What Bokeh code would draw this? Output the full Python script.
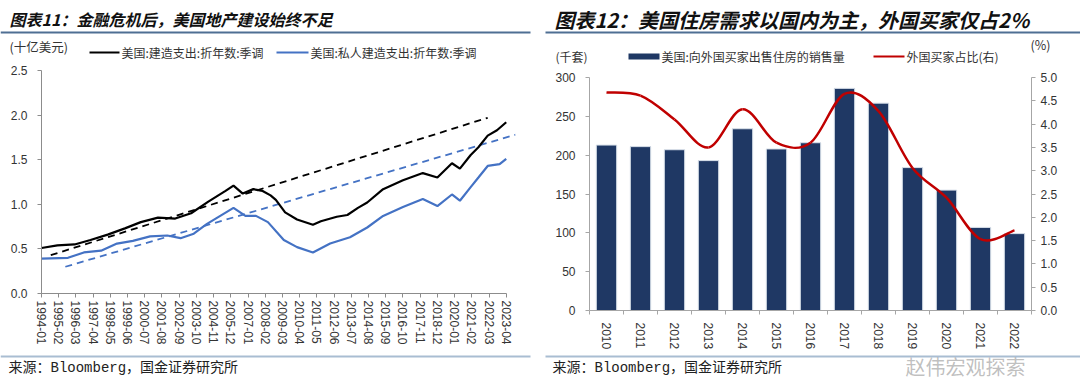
import numpy as np
from bokeh.plotting import figure
from bokeh.models import (FixedTicker, LinearAxis, Range1d, Label, BoxAnnotation)
from bokeh.layouts import row, column
from bokeh.embed import file_html
from bokeh.resources import INLINE

# ---------------- data: left chart ----------------
x_tick_labels = ["1994-01", "1995-02", "1996-03", "1997-04", "1998-05", "1999-06", "2000-07",
                 "2001-08", "2002-09", "2003-10", "2004-11", "2005-12", "2007-01", "2008-02",
                 "2009-03", "2010-04", "2011-05", "2012-06", "2013-07", "2014-08", "2015-09",
                 "2016-10", "2017-11", "2018-12", "2020-01", "2021-02", "2022-03", "2023-04"]

total_dates = ["1994-01", "1995-01", "1996-02", "1997-02", "1998-03", "1999-04", "2000-04",
               "2001-05", "2002-06", "2003-06", "2004-07", "2005-08", "2006-02", "2006-09",
               "2007-05", "2007-12", "2008-06", "2008-10", "2009-05", "2010-02", "2011-02",
               "2011-08", "2012-08", "2013-04", "2013-12", "2014-07", "2015-07", "2016-10",
               "2018-01", "2018-12", "2019-11", "2020-05", "2021-01", "2021-07", "2022-02",
               "2022-09", "2023-04"]
total_values = [0.51, 0.54, 0.55, 0.60, 0.66, 0.73, 0.80, 0.85, 0.84, 0.90, 1.03, 1.15, 1.21,
                1.12, 1.17, 1.15, 1.10, 1.05, 0.91, 0.83, 0.77, 0.81, 0.86, 0.88, 0.96, 1.02,
                1.17, 1.27, 1.35, 1.30, 1.46, 1.40, 1.55, 1.64, 1.77, 1.83, 1.92]

private_dates = ["1994-01", "1995-09", "1996-09", "1997-10", "1998-10", "1999-10", "2000-11",
                 "2001-12", "2002-10", "2003-08", "2004-06", "2005-04", "2006-02", "2006-11",
                 "2007-07", "2008-04", "2009-04", "2010-02", "2011-02", "2012-03", "2013-06",
                 "2014-07", "2015-07", "2016-10", "2018-01", "2018-12", "2019-11", "2020-05",
                 "2021-01", "2021-07", "2022-02", "2022-11", "2023-04"]
private_values = [0.39, 0.40, 0.46, 0.48, 0.56, 0.59, 0.64, 0.65, 0.62, 0.67, 0.78, 0.87, 0.96,
                  0.87, 0.87, 0.80, 0.60, 0.52, 0.46, 0.56, 0.63, 0.74, 0.87, 0.97, 1.06, 0.98,
                  1.11, 1.04, 1.19, 1.30, 1.43, 1.45, 1.51]

trend_total_dates = ["1994-08", "2022-02"]
trend_total_values = [0.43, 1.97]
trend_private_dates = ["1995-07", "2023-11"]
trend_private_values = [0.30, 1.78]

# ---------------- data: right chart ----------------
years = ["2010", "2011", "2012", "2013", "2014", "2015", "2016", "2017", "2018", "2019",
         "2020", "2021", "2022"]
foreign_sales = [213, 211, 207, 193, 234, 208, 216, 286, 267, 184, 155, 107, 99]
foreign_share = [4.68, 4.61, 4.10, 3.50, 4.32, 3.60, 3.60, 4.65, 4.28, 3.06, 2.42, 1.53, 1.72]

# ---------------- helpers ----------------
CJK = "Noto Sans CJK SC"
NUM = "Liberation Sans"
W = 540


def midx(s):
    y, m = s.split("-")
    return (int(y) - 1994) * 12 + int(m) - 1


def lab(p, x, y, text, size, color="#333333", font=CJK, style="normal",
        align="left", baseline="middle", alpha=1.0):
    p.add_layout(Label(x=x, y=y, x_units="screen", y_units="screen", text=text,
                       text_font=font, text_font_size=f"{size}px", text_color=color,
                       text_font_style=style, text_align=align, text_baseline=baseline,
                       text_alpha=alpha))


def box(p, l, r, b, t, color):
    p.add_layout(BoxAnnotation(left=l, right=r, bottom=b, top=t,
                               left_units="screen", right_units="screen",
                               bottom_units="screen", top_units="screen",
                               fill_color=color, fill_alpha=1.0, line_color=None))


def strip(h):
    s = figure(width=W, height=h, output_backend="svg", toolbar_location=None,
               x_axis_location=None, y_axis_location=None,
               x_range=Range1d(0, 1), y_range=Range1d(0, 1), min_border=0,
               frame_align=False)
    s.outline_line_color = None
    s.xgrid.visible = False
    s.ygrid.visible = False
    return s


def style_axis(ax, color="#8C8C8C"):
    ax.axis_line_color = color
    ax.major_tick_line_color = color
    ax.minor_tick_line_color = None
    ax.major_tick_in = 0
    ax.major_tick_out = 4
    ax.major_label_text_font = NUM
    ax.major_label_text_font_size = "12px"
    ax.major_label_text_color = "#333333"


TOP = 65            # header strips: page y 0-65
BOT = 381

# ---------------- left chart (page y 65-350) ----------------
p1 = figure(width=W, height=285, output_backend="svg", toolbar_location=None,
            x_range=Range1d(0, 358), y_range=Range1d(0, 2.5), frame_align=False,
            min_border_left=41, min_border_right=25, min_border_top=5, min_border_bottom=57)
p1.outline_line_color = None
p1.xgrid.visible = False
p1.ygrid.visible = False

p1.line([midx(d) for d in trend_total_dates], trend_total_values, color="black",
        line_width=1.8, line_dash="7 5")
p1.line([midx(d) for d in trend_private_dates], trend_private_values, color="#4472C4",
        line_width=1.8, line_dash="7 5")
p1.line([midx(d) for d in total_dates], total_values, color="black", line_width=2.2)
p1.line([midx(d) for d in private_dates], private_values, color="#4472C4", line_width=2.2)

tick_pos = [midx(s) for s in x_tick_labels]
xa = p1.xaxis[0]
style_axis(xa)
xa.ticker = FixedTicker(ticks=tick_pos)
xa.major_label_overrides = {t: s for t, s in zip(tick_pos, x_tick_labels)}
xa.major_label_orientation = "vertical"
xa.major_label_standoff = 3
xa.bounds = (0, tick_pos[-1])

ya = p1.yaxis[0]
style_axis(ya)
yt = [0, 0.5, 1.0, 1.5, 2.0, 2.5]
ya.ticker = FixedTicker(ticks=yt)
ya.major_label_overrides = {t: f"{t:.1f}" for t in yt}
ya.major_label_standoff = 10

t1 = strip(TOP)
lab(t1, 9, TOP - 18, "图表11：金融危机后，美国地产建设始终不足", 16, color="#111111",
    style="bold italic")
box(t1, 0, 530, TOP - 33, TOP - 31, "#4F6F93")
lab(t1, 9, TOP - 46, "(十亿美元)", 12.5)
box(t1, 89, 119, TOP - 53, TOP - 51, "black")
lab(t1, 121, TOP - 52, "美国:建造支出:折年数:季调", 12)
box(t1, 276, 308, TOP - 53, TOP - 51, "#4472C4")
lab(t1, 310, TOP - 52, "美国:私人建造支出:折年数:季调", 12)

b1 = strip(31)      # page y 350-381
box(b1, 0, 530, BOT - 357, BOT - 355, "#A9BDD2")
lab(b1, 8, BOT - 367, "来源：Bloomberg，国金证券研究所", 14,
    font="Liberation Mono, Noto Sans CJK SC", color="#222222")

# ---------------- right chart (page x 540-1080, y 65-353) ----------------
p2 = figure(width=W, height=288, output_backend="svg", toolbar_location=None,
            x_range=Range1d(0, len(years)), y_range=Range1d(0, 300), frame_align=False,
            min_border_left=49, min_border_right=49, min_border_top=12, min_border_bottom=43)
p2.outline_line_color = None
p2.xgrid.visible = False
p2.ygrid.visible = False
p2.extra_y_ranges = {"pct": Range1d(0, 5)}

centers = [i + 0.5 for i in range(len(years))]
p2.vbar(x=centers, top=foreign_sales, width=0.6, fill_color="#1F3864",
        line_color="#D9E1EA", line_width=1)

# smooth (Catmull-Rom style) curve through the share points
n = len(foreign_share)
x0s, y0s, x1s, y1s, cx0s, cy0s, cx1s, cy1s = [], [], [], [], [], [], [], []
for i in range(n - 1):
    ia, ib = max(i - 1, 0), min(i + 2, n - 1)
    xa_, ya_ = centers[i], foreign_share[i]
    xb_, yb_ = centers[i + 1], foreign_share[i + 1]
    x0s.append(xa_); y0s.append(ya_); x1s.append(xb_); y1s.append(yb_)
    cx0s.append(xa_ + (xb_ - centers[ia]) / 6)
    cy0s.append(ya_ + (yb_ - foreign_share[ia]) / 6)
    cx1s.append(xb_ - (centers[ib] - xa_) / 6)
    cy1s.append(yb_ - (foreign_share[ib] - ya_) / 6)
p2.bezier(x0=x0s, y0=y0s, x1=x1s, y1=y1s, cx0=cx0s, cy0=cy0s, cx1=cx1s, cy1=cy1s,
          line_color="#C00000", line_width=2.5, y_range_name="pct")

xb = p2.xaxis[0]
style_axis(xb, "#A6A6A6")
xb.ticker = FixedTicker(ticks=centers, minor_ticks=list(range(len(years) + 1)))
xb.major_label_overrides = {c: y for c, y in zip(centers, years)}
xb.major_tick_out = 0
xb.minor_tick_line_color = "#A6A6A6"
xb.minor_tick_out = 4
xb.minor_tick_in = 0
xb.major_label_orientation = "vertical"
xb.major_label_standoff = 8

yb = p2.yaxis[0]
style_axis(yb, "#A6A6A6")
yb.ticker = FixedTicker(ticks=[0, 50, 100, 150, 200, 250, 300])
yb.major_label_standoff = 10

yr = LinearAxis(y_range_name="pct")
style_axis(yr, "#A6A6A6")
rt = [0, 0.5, 1.0, 1.5, 2.0, 2.5, 3.0, 3.5, 4.0, 4.5, 5.0]
yr.ticker = FixedTicker(ticks=rt)
yr.major_label_overrides = {t: f"{t:.1f}" for t in rt}
yr.major_label_standoff = 5
p2.add_layout(yr, "right")

X2 = 540
t2 = strip(TOP)
lab(t2, 554 - X2, TOP - 19, "图表12：美国住房需求以国内为主，外国买家仅占2%", 20,
    color="#111111", style="bold italic")
box(t2, 545 - X2, W, TOP - 33, TOP - 31, "#4F6F93")
lab(t2, 555 - X2, TOP - 56, "(千套)", 12)
box(t2, 628 - X2, 659 - X2, TOP - 59, TOP - 53, "#1F3864")
lab(t2, 661 - X2, TOP - 56, "美国:向外国买家出售住房的销售量", 12)
box(t2, 873 - X2, 904 - X2, TOP - 57, TOP - 55, "#C00000")
lab(t2, 906 - X2, TOP - 56, "外国买家占比(右)", 12)
lab(t2, 1030 - X2, TOP - 44, "(%)", 12.5)

b2 = strip(28)      # page y 353-381
box(b2, 545 - X2, W, BOT - 357, BOT - 355, "#A9BDD2")
lab(b2, 552 - X2, BOT - 367, "来源：Bloomberg，国金证券研究所", 14,
    font="Liberation Mono, Noto Sans CJK SC", color="#222222")
lab(b2, 965 - X2, BOT - 366, "赵伟宏观探索", 20, color="#8A8A8A", align="center", alpha=0.55)

layout = row(column(t1, p1, b1), column(t2, p2, b2))
open("out.html", "w").write(file_html(layout, INLINE))
